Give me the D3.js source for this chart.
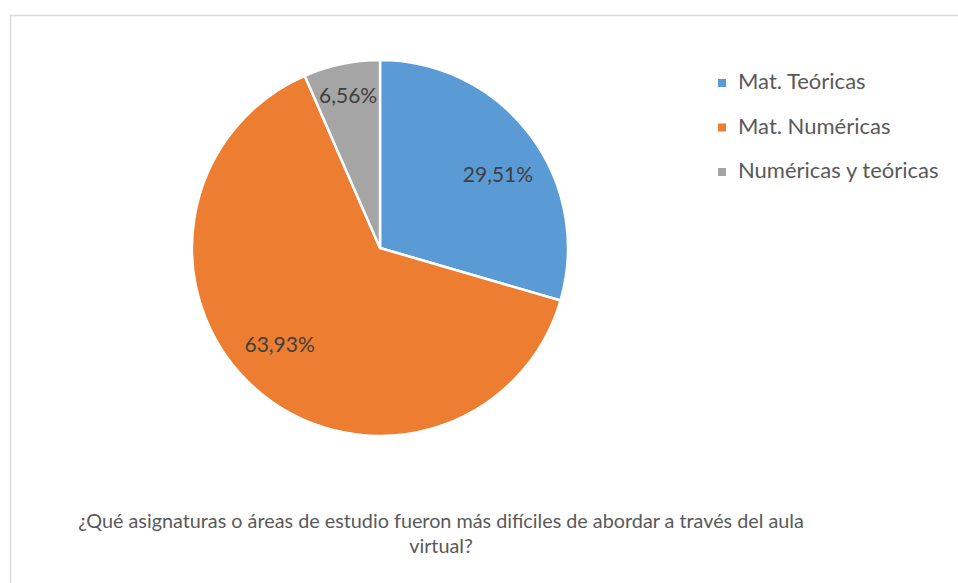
<!DOCTYPE html>
<html>
<head>
<meta charset="utf-8">
<script src="https://cdn.jsdelivr.net/npm/d3@7"></script>
<style>
  body { margin: 0; background: #fff; }
  svg { display: block; font-family: Lato, "Liberation Sans", sans-serif; }
</style>
</head>
<body>
<svg id="chart"></svg>
<script>
// data (61 answers)
var categories = ["Mat. Teóricas", "Mat. Numéricas", "Numéricas y teóricas"];
var values = [18, 39, 4];
var percentLabels = ["29,51%", "63,93%", "6,56%"];
var colors = ["#5B9BD5", "#ED7D31", "#A5A5A5"];
var titleLines = ["¿Qué asignaturas o áreas de estudio fueron más difíciles de abordar a través del aula", "virtual?"];

var width = 958, height = 583;
var cx = 380, cy = 248, radius = 188;

var svg = d3.select("#chart")
    .attr("width", width)
    .attr("height", height);

// chart area border
svg.append("rect")
    .attr("x", 10.5)
    .attr("y", 15.5)
    .attr("width", 980)
    .attr("height", 600)
    .attr("fill", "none")
    .attr("stroke", "#d9d9d9")
    .attr("stroke-width", 1.5);

var color = d3.scaleOrdinal().domain(categories).range(colors);

var pie = d3.pie().sort(null).value(function (d) { return d.value; });
var data = categories.map(function (c, i) {
    return { name: c, value: values[i], label: percentLabels[i] };
});

var arc = d3.arc().innerRadius(0).outerRadius(radius);

var g = svg.append("g").attr("transform", "translate(" + cx + "," + cy + ")");

var arcs = g.selectAll(".arc")
    .data(pie(data))
    .enter()
    .append("g")
    .attr("class", "arc");

arcs.append("path")
    .attr("d", arc)
    .attr("fill", function (d) { return color(d.data.name); })
    .attr("stroke", "#fff")
    .attr("stroke-width", 2.5)
    .attr("stroke-linejoin", "round");

// labels: big slices a bit past the middle, small ones further out
function labelPos(d) {
    var small = (d.endAngle - d.startAngle) < 0.6;
    var r = small ? radius * 0.83 : radius * 0.74;
    var a = (d.startAngle + d.endAngle) / 2 + (small ? 0 : 0.085);
    return [Math.sin(a) * r, -Math.cos(a) * r];
}

arcs.append("text")
    .attr("transform", function (d) { return "translate(" + labelPos(d) + ")"; })
    .attr("text-anchor", "middle")
    .attr("dy", "0.35em")
    .attr("font-size", 21)
    .attr("fill", "#404040")
    .text(function (d) { return d.data.label; });

// legend
var legend = svg.append("g").attr("transform", "translate(718,0)");
var ly = d3.scalePoint().domain(categories).range([89, 178]);

var items = legend.selectAll(".item")
    .data(categories)
    .enter()
    .append("g")
    .attr("class", "item")
    .attr("transform", function (d) { return "translate(0," + ly(d) + ")"; });

items.append("rect")
    .attr("x", 0)
    .attr("y", -10)
    .attr("width", 8)
    .attr("height", 8)
    .attr("fill", function (d) { return color(d); });

items.append("text")
    .attr("x", 20)
    .attr("y", 0)
    .attr("font-size", 22)
    .attr("fill", "#595959")
    .text(function (d) { return d; });

// title below the pie
svg.selectAll(".title")
    .data(titleLines)
    .enter()
    .append("text")
    .attr("class", "title")
    .attr("x", 441)
    .attr("y", function (d, i) { return 528 + i * 25; })
    .attr("text-anchor", "middle")
    .attr("font-size", 19.8)
    .attr("fill", "#595959")
    .text(function (d) { return d; });
</script>
</body>
</html>
